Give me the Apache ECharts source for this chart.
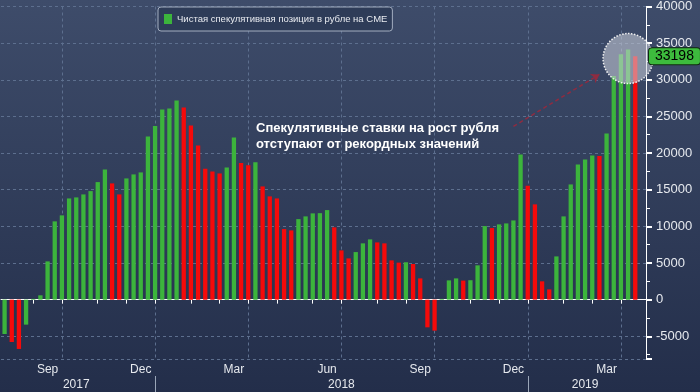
<!DOCTYPE html>
<html><head><meta charset="utf-8">
<script src="https://cdn.jsdelivr.net/npm/echarts@6/dist/echarts.min.js"></script>
<style>html,body{margin:0;padding:0;background:#2f3b58}#c{width:700px;height:392px}</style>
</head><body><div id="c"></div>
<script>
// Weekly dates (CFTC report Tuesdays)
const dates = [
 '2017-08-08','2017-08-15','2017-08-22','2017-08-29',
 '2017-09-05','2017-09-12','2017-09-19','2017-09-26',
 '2017-10-03','2017-10-10','2017-10-17','2017-10-24','2017-10-31',
 '2017-11-07','2017-11-14','2017-11-21','2017-11-28',
 '2017-12-05','2017-12-12','2017-12-19','2017-12-26',
 '2018-01-02','2018-01-09','2018-01-16','2018-01-23','2018-01-30',
 '2018-02-06','2018-02-13','2018-02-20','2018-02-27',
 '2018-03-06','2018-03-13','2018-03-20','2018-03-27',
 '2018-04-03','2018-04-10','2018-04-17','2018-04-24',
 '2018-05-01','2018-05-08','2018-05-15','2018-05-22','2018-05-29',
 '2018-06-05','2018-06-12','2018-06-19','2018-06-26',
 '2018-07-03','2018-07-10','2018-07-17','2018-07-24','2018-07-31',
 '2018-08-07','2018-08-14','2018-08-21','2018-08-28',
 '2018-09-04','2018-09-11','2018-09-18','2018-09-25',
 '2018-10-02','2018-10-09','2018-10-16','2018-10-23','2018-10-30',
 '2018-11-06','2018-11-13','2018-11-20','2018-11-27',
 '2018-12-04','2018-12-11','2018-12-18','2018-12-25',
 '2019-01-01','2019-01-08','2019-01-15','2019-01-22','2019-01-29',
 '2019-02-05','2019-02-12','2019-02-19','2019-02-26',
 '2019-03-05','2019-03-12','2019-03-19','2019-03-26',
 '2019-04-02','2019-04-09','2019-04-16'
];
const axisPadding = ['2019-04-23'];
// Net speculative position (contracts)
const values = [
 -4690,-5780,-6730,-3410,
 100,590,5220,10680,
 11500,13810,13950,14360,14810,
 16040,17770,15860,14360,
 16540,17090,17360,22270,
 23680,25950,26090,27180,26220,
 23770,21040,17860,17500,
 17220,18040,22130,18630,
 18350,18760,15450,14090,
 13810,9630,9450,10990,11360,
 11770,11800,12220,9860,
 6720,5630,6490,7680,8220,
 7810,7680,5360,5050,
 5100,4860,2900,-3780,
 -4230,100,2630,2900,2600,
 2650,4680,10040,9770,
 10270,10400,10810,19810,
 15540,13000,2500,1400,5900,
 11360,15720,18450,19130,
 19680,19600,22680,30500,
 33490,34130,33198
];
const lastValue = 33198;
const seriesName = 'Чистая спекулятивная позиция в рубле на CME';
const noteLines = ['Спекулятивные ставки на рост рубля', 'отступают от рекордных значений'];
const monthTickAt = ['2017-09-05','2017-10-03','2017-11-07','2017-12-05','2018-01-02','2018-02-06','2018-03-06','2018-04-03','2018-05-01','2018-06-05','2018-07-03','2018-08-07','2018-09-04','2018-10-02','2018-11-06','2018-12-04','2019-01-01','2019-02-05','2019-03-05','2019-04-02'];
const monthLabelAt = ['2017-09-19','2017-12-19','2018-03-20','2018-06-19','2018-09-18','2018-12-18','2019-03-19'];
const monthLabelText = ['Sep','Dec','Mar','Jun','Sep','Dec','Mar'];
const quarterLineAt = ['2017-10-03','2018-01-02','2018-04-03','2018-07-03','2018-10-02','2019-01-01','2019-04-02'];
const yearLabelAt = ['2017-10-17','2018-07-03','2019-02-26'];
const yearLabelText = ['2017','2018','2019'];
const yearBreakAt = ['2018-01-02','2019-01-01'];
const arrowFrom = ['2018-12-18', 23640];
const arrowTo = ['2019-03-12', 30730];
const circleAt = ['2019-04-09', 32900];

const GREEN = '#3cb43c', RED = '#f50a0a';
const FONT = 'Liberation Sans';
const cats = dates.concat(axisPadding);
const barData = values.map((v, i) => ({
  value: v,
  itemStyle: { color: (i === 0 || v >= values[i - 1]) ? GREEN : RED }
}));

const chart = echarts.init(document.getElementById('c'), null, { renderer: 'canvas' });
chart.setOption({
  animation: false,
  backgroundColor: { type: 'linear', x: 0, y: 0, x2: 0, y2: 1,
    colorStops: [{ offset: 0, color: '#3e4c6a' }, { offset: 1, color: '#232e4a' }] },
  title: {
    text: noteLines.join('\n'), left: 256, top: 120, padding: 0,
    textStyle: { color: '#ffffff', fontSize: 13, fontWeight: 'bold', lineHeight: 16, fontFamily: FONT }
  },
  legend: {
    left: 158, top: 7, data: [seriesName], icon: 'rect', itemWidth: 8, itemHeight: 10,
    backgroundColor: '#2e3c58', borderColor: '#a3aec0', borderWidth: 1, borderRadius: 3,
    padding: [7, 5, 7, 6],
    textStyle: { color: '#e8ebf0', fontSize: 9.5, fontFamily: "'Liberation Sans Narrow', 'Liberation Sans'" }
  },
  grid: { left: 1, right: 54, top: 5, bottom: 33 },
  xAxis: [
    {
      type: 'category', data: cats, boundaryGap: true,
      axisLine: { lineStyle: { color: '#ffffff', width: 1 } },
      axisTick: { show: true, alignWithLabel: true, length: 4,
        interval: (i, v) => monthTickAt.includes(v), lineStyle: { color: '#ffffff' } },
      axisLabel: { interval: (i, v) => monthLabelAt.includes(v),
        formatter: v => monthLabelText[monthLabelAt.indexOf(v)] || '',
        color: '#e6e9ee', fontSize: 12, margin: 5, fontFamily: FONT },
      splitLine: { show: true, alignWithLabel: true,
        interval: (i, v) => quarterLineAt.includes(v),
        lineStyle: { color: '#5d6f8e', type: [3, 3] } }
    },
    {
      type: 'category', data: cats, boundaryGap: true, position: 'bottom', offset: 17,
      axisLine: { show: false },
      axisTick: { show: true, alignWithLabel: true, length: 17,
        interval: (i, v) => yearBreakAt.includes(v), lineStyle: { color: '#9aa6b8' } },
      axisLabel: { interval: (i, v) => yearLabelAt.includes(v),
        formatter: v => yearLabelText[yearLabelAt.indexOf(v)] || '',
        color: '#e6e9ee', fontSize: 12, margin: 3, fontFamily: FONT },
      splitLine: { show: false }
    }
  ],
  yAxis: {
    type: 'value', position: 'right', min: -8100, max: 40000, splitNumber: 10,
    axisLine: { show: true, lineStyle: { color: '#ffffff' } },
    axisTick: { show: true, length: 6, lineStyle: { color: '#ffffff', width: 2 } },
    minorTick: { show: true, splitNumber: 2, length: 4, lineStyle: { color: '#ffffff' } },
    axisLabel: { showMinLabel: false, color: '#e6e9ee', fontSize: 13, margin: 10,
      fontFamily: FONT, formatter: v => String(v) },
    splitLine: { show: true, lineStyle: { color: '#5d6f8e', type: [3, 3] } },
    axisPointer: {
      show: true, type: 'line', value: lastValue, status: 'show', snap: false, triggerTooltip: false,
      lineStyle: { opacity: 0 },
      label: { show: true, formatter: p => String(Math.round(p.value)),
        backgroundColor: '#3dbb3d', color: '#000000', fontSize: 14, fontFamily: FONT,
        padding: [1, 6, 1, 6], borderColor: '#102810', borderWidth: 1, margin: 3 }
    }
  },
  series: [{
    name: seriesName, type: 'bar', data: barData, barWidth: '60%', color: GREEN,
    xAxisIndex: 0,
    markLine: {
      silent: true, symbol: ['none', 'arrow'], symbolSize: 8, label: { show: false },
      lineStyle: { color: '#8f2b40', type: [4, 3], width: 1.5 },
      data: [[{ coord: arrowFrom }, { coord: arrowTo }]]
    },
    markPoint: {
      silent: true, symbol: 'circle', symbolSize: 50, label: { show: false },
      itemStyle: { color: 'rgba(205,210,220,0.55)', borderColor: '#f2f2f2', borderWidth: 1.5, borderType: 'dotted' },
      data: [{ coord: circleAt }]
    }
  }]
});
</script>
</body></html>
